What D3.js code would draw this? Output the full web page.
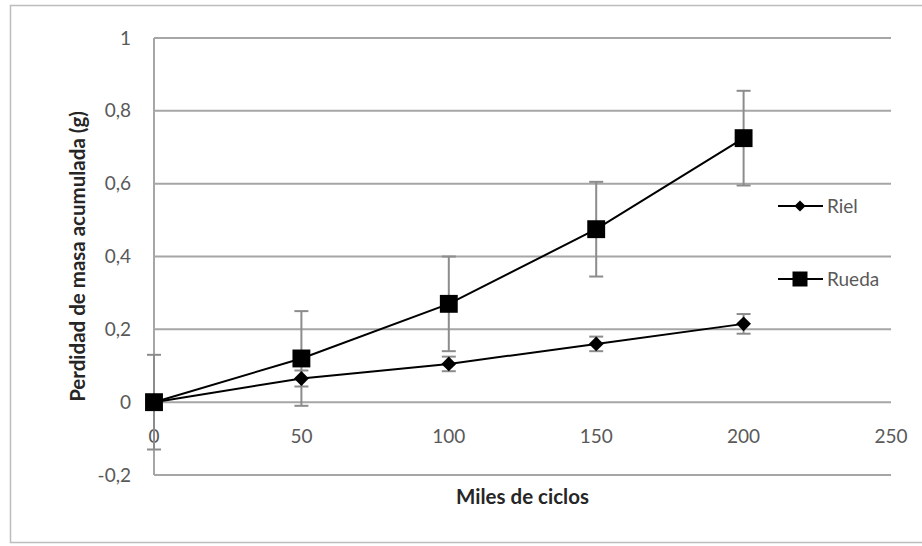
<!DOCTYPE html>
<html>
<head>
<meta charset="utf-8">
<script src="https://cdn.jsdelivr.net/npm/d3@7"></script>
<style>
  body { margin: 0; background: #fff; }
  text { font-family: Lato, "Open Sans", sans-serif; }
</style>
</head>
<body>
<div id="chart"></div>
<script>
// data
const ciclos = [0, 50, 100, 150, 200]
const riel = [0, 0.065, 0.105, 0.16, 0.215]
const rielErr = [0.01, 0.022, 0.02, 0.02, 0.027]
const rueda = [0, 0.12, 0.27, 0.475, 0.725]
const ruedaErr = [0.13, 0.13, 0.13, 0.13, 0.13]
const yTicks = [-0.2, 0, 0.2, 0.4, 0.6, 0.8, 1]
const xTicks = [0, 50, 100, 150, 200, 250]

const width = 922, height = 546
const svg = d3.select("#chart").append("svg")
  .attr("width", width).attr("height", height)

// outer frame
svg.append("rect").attr("x", 10.5).attr("y", 5.5)
  .attr("width", 930).attr("height", 537)
  .attr("fill", "none").attr("stroke", "#bdbdbd").attr("stroke-width", 1.5)

const x = d3.scaleLinear().domain([0, 250]).range([154, 891])
const y = d3.scaleLinear().domain([-0.2, 1]).range([475, 38])

// gridlines
svg.append("g").selectAll("line").data(yTicks).join("line")
  .attr("x1", x(0)).attr("x2", x(250))
  .attr("y1", d => y(d)).attr("y2", d => y(d))
  .attr("stroke", "#a6a6a6").attr("stroke-width", 2)

// y axis line
svg.append("line").attr("x1", x(0)).attr("x2", x(0))
  .attr("y1", y(1)).attr("y2", y(-0.2))
  .attr("stroke", "#a6a6a6").attr("stroke-width", 2)

const fmt = d => d3.format(".1f")(d).replace("−", "-").replace(".", ",").replace(/,0$/, "")

// y tick labels
svg.append("g").selectAll("text").data(yTicks).join("text")
  .attr("x", 131).attr("y", d => y(d)).attr("dy", "0.35em")
  .attr("text-anchor", "end").attr("font-size", 19).attr("fill", "#595959")
  .text(d => fmt(d))

// x tick labels
svg.append("g").selectAll("text").data(xTicks).join("text")
  .attr("x", d => x(d)).attr("y", 436).attr("dy", "0.35em")
  .attr("text-anchor", "middle").attr("font-size", 19).attr("fill", "#595959")
  .text(d => d)

// axis titles
svg.append("text").attr("x", (x(0) + x(250)) / 2).attr("y", 497).attr("dy", "0.35em")
  .attr("text-anchor", "middle").attr("font-size", 20.5).attr("font-weight", "bold")
  .attr("fill", "#262626").text("Miles de ciclos")
svg.append("text")
  .attr("transform", `translate(78,${(y(1) + y(-0.2)) / 2}) rotate(-90)`)
  .attr("dy", "0.35em").attr("text-anchor", "middle").attr("font-size", 20.5)
  .attr("font-weight", "bold").attr("fill", "#262626")
  .text("Perdidad de masa acumulada (g)")

// error bars
function errorBars(vals, errs) {
  const g = svg.append("g").attr("stroke", "#8c8c8c").attr("stroke-width", 2)
  ciclos.forEach((c, i) => {
    const cx = x(c), top = y(vals[i] + errs[i]), bot = y(vals[i] - errs[i])
    g.append("line").attr("x1", cx).attr("x2", cx).attr("y1", top).attr("y2", bot)
    g.append("line").attr("x1", cx - 7).attr("x2", cx + 7).attr("y1", top).attr("y2", top)
    g.append("line").attr("x1", cx - 7).attr("x2", cx + 7).attr("y1", bot).attr("y2", bot)
  })
}
errorBars(rueda, ruedaErr)
errorBars(riel, rielErr)

const line = d3.line().x((d, i) => x(ciclos[i])).y(d => y(d))
const diamond = d3.symbol().type(d3.symbolDiamond2).size(140)
const square = d3.symbol().type(d3.symbolSquare).size(320)

function series(vals, sym) {
  svg.append("path").datum(vals).attr("d", line)
    .attr("fill", "none").attr("stroke", "#000").attr("stroke-width", 2)
  svg.append("g").selectAll("path").data(vals).join("path")
    .attr("transform", (d, i) => `translate(${x(ciclos[i])},${y(d)})`)
    .attr("d", sym).attr("fill", "#000")
}
series(riel, diamond)
series(rueda, square)

// legend
const legend = [
  {name: "Riel", sym: d3.symbol().type(d3.symbolDiamond2).size(80), y: 206},
  {name: "Rueda", sym: d3.symbol().type(d3.symbolSquare).size(225), y: 279}
]
legend.forEach(l => {
  svg.append("line").attr("x1", 778).attr("x2", 823).attr("y1", l.y).attr("y2", l.y)
    .attr("stroke", "#000").attr("stroke-width", 2)
  svg.append("path").attr("transform", `translate(800,${l.y})`).attr("d", l.sym()).attr("fill", "#000")
  svg.append("text").attr("x", 827).attr("y", l.y).attr("dy", "0.35em")
    .attr("font-size", 19).attr("fill", "#595959").text(l.name)
})
</script>
</body>
</html>
